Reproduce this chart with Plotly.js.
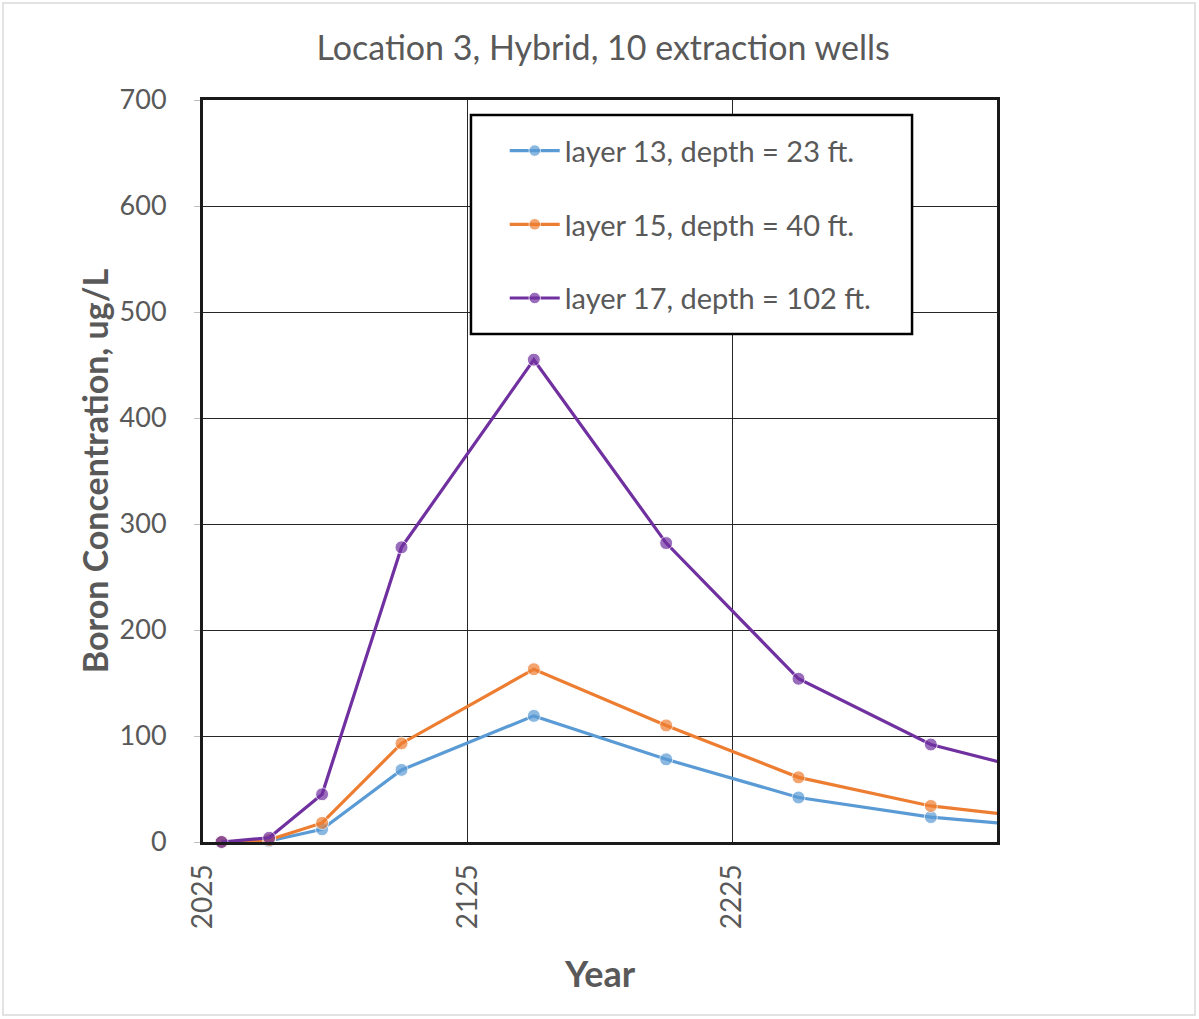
<!DOCTYPE html>
<html>
<head>
<meta charset="utf-8">
<script src="https://cdn.plot.ly/plotly-3.0.1.min.js"></script>
<style>html,body{margin:0;padding:0;background:#fff;}#chart{width:1199px;height:1019px;}</style>
</head>
<body>
<div id="chart"></div>
<script>
// Data
const years = [2032, 2050, 2070, 2100, 2150, 2200, 2250, 2300, 2350];
const layer13 = [0, 1, 12, 68, 119, 78, 42, 23.5, 12.5];
const layer15 = [0, 2, 18, 93, 163, 110, 61, 34, 20];
const layer17 = [0, 4, 45, 278, 455, 282, 154, 92, 60];
const seriesNames = ["layer 13, depth = 23 ft.", "layer 15, depth = 40 ft.", "layer 17, depth = 102 ft."];
const seriesColors = ["#5B9BD5", "#ED7D31", "#7030A0"];
const xMin = 2025, xMax = 2325;
const xTicks = [2025, 2125, 2225];
const yTicks = [0, 100, 200, 300, 400, 500, 600, 700];

const textColor = "#595959";
const fontFam = "Lato, 'Open Sans', sans-serif";
const seriesData = [layer13, layer15, layer17];

const traces = seriesData.map((vals, i) => ({
  x: years,
  y: vals,
  type: "scatter",
  mode: "lines+markers",
  name: seriesNames[i],
  legendgroup: "g" + i,
  line: {color: seriesColors[i], width: 3.2},
  marker: {color: seriesColors[i], size: years.map(x => x > xMax ? 0 : 13)},
  cliponaxis: false
}));

const layout = {
  width: 1199,
  height: 1019,
  paper_bgcolor: "#fff",
  plot_bgcolor: "#fff",
  margin: {l: 203, r: 202, t: 100, b: 177},
  title: {
    text: "Location 3, Hybrid, 10 extraction wells",
    font: {family: fontFam, size: 34, color: textColor},
    x: 0.503, xanchor: "center", y: 0.953, yanchor: "middle"
  },
  showlegend: true,
  legend: {
    x: 0.380, y: 0.966, xanchor: "left", yanchor: "top",
    bgcolor: "rgba(0,0,0,0)", borderwidth: 0,
    font: {family: fontFam, size: 29, color: textColor},
    traceorder: "grouped", tracegroupgap: 33,
    itemwidth: 50
  },
  xaxis: {
    range: [xMin, xMax],
    tickvals: xTicks,
    tickangle: -90,
    tickfont: {family: fontFam, size: 28, color: textColor},
    showgrid: true, gridcolor: "#262626", gridwidth: 1,
    showline: true, linecolor: "#1a1a1a", linewidth: 3, mirror: true,
    ticks: "", ticklabelstandoff: 8,
    zeroline: false,
    title: {text: "Year", font: {family: fontFam, size: 36, color: textColor, weight: "bold"}, standoff: 34}
  },
  yaxis: {
    range: [0, 700],
    tickvals: yTicks,
    tickfont: {family: fontFam, size: 27, color: textColor},
    showgrid: true, gridcolor: "#262626", gridwidth: 1,
    showline: true, linecolor: "#1a1a1a", linewidth: 3, mirror: true,
    ticks: "outside", ticklen: 6, tickcolor: "#bfbfbf", ticklabelstandoff: 22,
    zeroline: false,
    title: {text: "Boron Concentration, ug/L", font: {family: fontFam, size: 34, color: textColor, weight: "bold"}, standoff: 1}
  },
  shapes: [
    {
      type: "rect", xref: "paper", yref: "paper",
      x0: -0.2519, x1: 1.2494, y0: -0.2332, y1: 1.1307,
      line: {color: "#d9d9d9", width: 1.5}, fillcolor: "rgba(0,0,0,0)", layer: "below"
    },
    {
      type: "rect", xref: "paper", yref: "paper",
      x0: 0.3375, x1: 0.893, y0: 0.6846, y1: 0.9798,
      line: {color: "#000", width: 2.5}, fillcolor: "#fff", layer: "above"
    }
  ]
};

Plotly.newPlot("chart", traces, layout, {displayModeBar: false, staticPlot: true});
</script>
</body>
</html>
